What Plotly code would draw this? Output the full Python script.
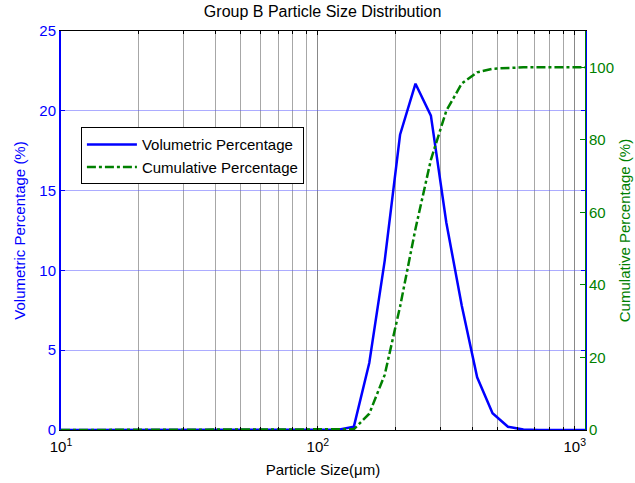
import plotly.graph_objects as go

sizes = [10.00, 11.48, 13.18, 15.14, 17.38, 19.95, 22.91, 26.30, 30.20, 34.67,
         39.81, 45.71, 52.48, 60.26, 69.18, 79.43, 91.20, 104.7, 120.2, 138.0,
         158.5, 182.0, 208.9, 239.9, 275.4, 316.2, 363.1, 416.9, 478.6, 549.5,
         631.0, 724.4, 831.8, 955.0, 1096.0]

volumetric = [0, 0, 0, 0, 0, 0, 0, 0, 0, 0,
              0, 0, 0, 0, 0, 0, 0, 0, 0.02, 0.2,
              4.2, 10.6, 18.5, 21.7, 19.7, 13.0, 7.8, 3.3, 1.05, 0.2,
              0.03, 0, 0, 0, 0]

cumulative = [0, 0, 0, 0, 0, 0, 0, 0, 0, 0,
              0, 0, 0, 0, 0, 0, 0, 0, 0.02, 0.2,
              4.5, 15.2, 34.0, 55.5, 74.5, 88.0, 95.5, 98.6, 99.6, 99.9,
              100, 100, 100, 100, 100]

x_tickvals = [10, 100, 1000]
x_ticktext = ["10<sup>1</sup>", "10<sup>2</sup>", "10<sup>3</sup>"]
left_ticks = [0, 5, 10, 15, 20, 25]
right_ticks = [0, 20, 40, 60, 80, 100]

FONT = "Liberation Sans, Arial, sans-serif"
BLUE = "#0000ff"
GREEN = "#008000"
GRID_V = "rgba(120,120,120,0.65)"
GRID_H = "rgba(90,90,255,0.5)"

fig = go.Figure()
fig.add_trace(go.Scatter(x=sizes, y=volumetric, mode="lines", name="Volumetric Percentage",
                         line=dict(color=BLUE, width=2.5), yaxis="y"))
fig.add_trace(go.Scatter(x=sizes, y=cumulative, mode="lines", name="Cumulative Percentage",
                         line=dict(color=GREEN, width=2.5, dash="dashdot"), yaxis="y2"))

fig.update_layout(
    width=635, height=483,
    margin=dict(l=61, r=50, t=31, b=53),
    paper_bgcolor="white", plot_bgcolor="white",
    font=dict(family=FONT, size=15, color="black"),
    title=dict(text="Group B Particle Size Distribution", x=0.508, xanchor="center",
               y=0.988, yanchor="top", font=dict(size=16, color="black")),
    showlegend=True,
    legend=dict(x=0.038, y=0.759, xanchor="left", yanchor="top",
                bgcolor="white", bordercolor="black", borderwidth=1,
                itemwidth=50,
                font=dict(size=15, color="black"), tracegroupgap=0),
    xaxis=dict(type="log", range=[1, 3.0399], tickvals=x_tickvals, ticktext=x_ticktext,
               automargin=False,
               showgrid=True, gridcolor=GRID_V, gridwidth=1,
               ticks="inside", ticklen=4, tickcolor="black",
               showline=True, linecolor="black", linewidth=1, mirror="ticks",
               tickfont=dict(size=15, color="black"), ticklabelstandoff=3,
               minor=dict(dtick="D1", showgrid=True, gridcolor=GRID_V, gridwidth=1,
                          ticks="inside", ticklen=3, tickcolor="black"),
               title=dict(text="Particle Size(μm)", font=dict(size=15, color="black"), standoff=10),
               zeroline=False),
    yaxis=dict(range=[0, 25], tickvals=left_ticks, showgrid=True, gridcolor=GRID_H, gridwidth=1,
               automargin=False,
               ticks="inside", ticklen=4, tickcolor=BLUE,
               showline=True, linecolor=BLUE, linewidth=2, mirror="ticks",
               tickfont=dict(size=15, color=BLUE), zeroline=False,
               title=dict(text="Volumetric Percentage (%)", font=dict(size=15, color=BLUE), standoff=10)),
    yaxis2=dict(range=[0, 110], tickvals=right_ticks, overlaying="y", side="right",
                automargin=False,
                showgrid=False, ticks="inside", ticklen=5, tickcolor=GREEN,
                showline=True, linecolor=GREEN, linewidth=1,
                tickfont=dict(size=15, color=GREEN), zeroline=False,
                title=dict(text="Cumulative Percentage (%)", font=dict(size=15, color=GREEN), standoff=6)),
)

fig.write_html("out.html")
